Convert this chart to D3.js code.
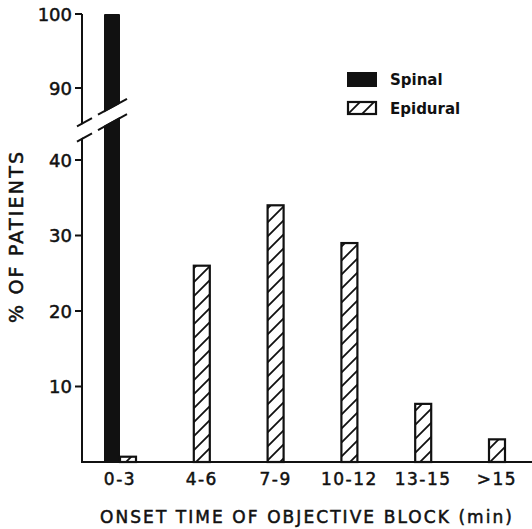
<!DOCTYPE html>
<html><head><meta charset="utf-8">
<script src="https://cdn.jsdelivr.net/npm/d3@7/dist/d3.min.js"></script>
<style>body{margin:0;background:#fff}svg{display:block}text{font-family:"DejaVu Sans",sans-serif;fill:#111;stroke:#111;stroke-width:0.5px}text.leg{stroke:none}</style>
</head><body>
<script>
const categories = ["0-3","4-6","7-9","10-12","13-15",">15"];
const spinal = [100, 0, 0, 0, 0, 0];
const epidural = [0.7, 26, 34, 29, 7.7, 3];
const lowerTicks = [10, 20, 30, 40];
const upperTicks = [90, 100];
const seriesNames = ["Spinal", "Epidural"];

const W = 532, H = 529;
const svg = d3.select("body").append("svg").attr("width", W).attr("height", H);
const defs = svg.append("defs");
const pat = defs.append("pattern").attr("id","hatch").attr("patternUnits","userSpaceOnUse")
  .attr("width",14).attr("height",14);
pat.append("rect").attr("width",14).attr("height",14).attr("fill","#fff");
pat.append("path").attr("d","M-2,16 L16,-2 M-2,2 L2,-2 M12,16 L16,12").attr("stroke","#111").attr("stroke-width",1.8);

const axisX = 82;
const x = d3.scalePoint().domain(categories).range([120, 489]);
const yLow = d3.scaleLinear().domain([0, 40]).range([462, 160]);
const yUp = d3.scaleLinear().domain([90, 100]).range([88, 14]);
const barW = 16;
const ink = "#111";

svg.append("line").attr("x1",axisX).attr("x2",axisX).attr("y1",yUp(100)).attr("y2",yLow(0))
  .attr("stroke",ink).attr("stroke-width",2);
svg.append("line").attr("x1",axisX-1).attr("x2",W).attr("y1",yLow(0)).attr("y2",yLow(0))
  .attr("stroke",ink).attr("stroke-width",2.2);

function tick(y, label){
  svg.append("line").attr("x1",axisX-7).attr("x2",axisX).attr("y1",y).attr("y2",y).attr("stroke",ink).attr("stroke-width",2);
  svg.append("text").attr("x",axisX-10).attr("y",y+6.5).attr("text-anchor","end")
    .attr("font-size",18).text(label);
}
lowerTicks.forEach(t=>tick(yLow(t), t));
upperTicks.forEach(t=>tick(yUp(t), t));

categories.forEach((c,i)=>{
  if (spinal[i] > 0) {
    const top = spinal[i] > 40 ? yUp(spinal[i]) : yLow(spinal[i]);
    svg.append("rect").attr("x",x(c)-barW).attr("y",top).attr("width",barW)
      .attr("height",yLow(0)-top).attr("fill",ink).attr("rx",1);
  }
  if (epidural[i] > 0) {
    svg.append("rect").attr("x",x(c)).attr("y",yLow(epidural[i])).attr("width",barW)
      .attr("height",yLow(0)-yLow(epidural[i])).attr("fill","url(#hatch)")
      .attr("stroke",ink).attr("stroke-width",2.2);
  }
  const cx = (spinal[i] > 0 && epidural[i] > 0) ? x(c) : x(c) + barW/2;
  svg.append("text").attr("x",cx).attr("y",485).attr("text-anchor","middle")
    .attr("font-size",17).attr("letter-spacing",1.5).text(c);
});

const slope = 0.55;
const yA = yUp(85.2), yB = yLow(42.8);
const sl = (c, xx) => c - slope*(xx - axisX);
svg.append("polygon").attr("points",[[76,sl(yA,76)+1],[128,sl(yA,128)+1],[128,sl(yB,128)-1],[76,sl(yB,76)-1]].map(p=>p.join(",")).join(" "))
  .attr("fill","#fff");
[[77,92],[98,127]].forEach(([a,b])=>{
  [yA,yB].forEach(c=>{
    svg.append("line").attr("x1",a).attr("x2",b).attr("y1",sl(c,a)).attr("y2",sl(c,b))
      .attr("stroke",ink).attr("stroke-width",2);
  });
});

svg.append("rect").attr("x",347).attr("y",72).attr("width",30).attr("height",15).attr("fill",ink);
svg.append("rect").attr("x",348).attr("y",102).attr("width",28).attr("height",12).attr("fill","url(#hatch)")
  .attr("stroke",ink).attr("stroke-width",2.2);
svg.append("text").attr("class","leg").attr("x",390).attr("y",85).attr("font-size",15).attr("font-weight","bold").text(seriesNames[0]);
svg.append("text").attr("class","leg").attr("x",390).attr("y",114).attr("font-size",15).attr("font-weight","bold").text(seriesNames[1]);

svg.append("text").attr("x",306).attr("y",523).attr("text-anchor","middle").attr("font-size",17)
  .attr("textLength",412).attr("lengthAdjust","spacing").text("ONSET TIME OF OBJECTIVE BLOCK (min)");
svg.append("text").attr("transform","translate(23,237.5) rotate(-90)").attr("text-anchor","middle")
  .attr("font-size",19).attr("textLength",171).attr("lengthAdjust","spacing").text("% OF PATIENTS");
</script>
</body></html>
